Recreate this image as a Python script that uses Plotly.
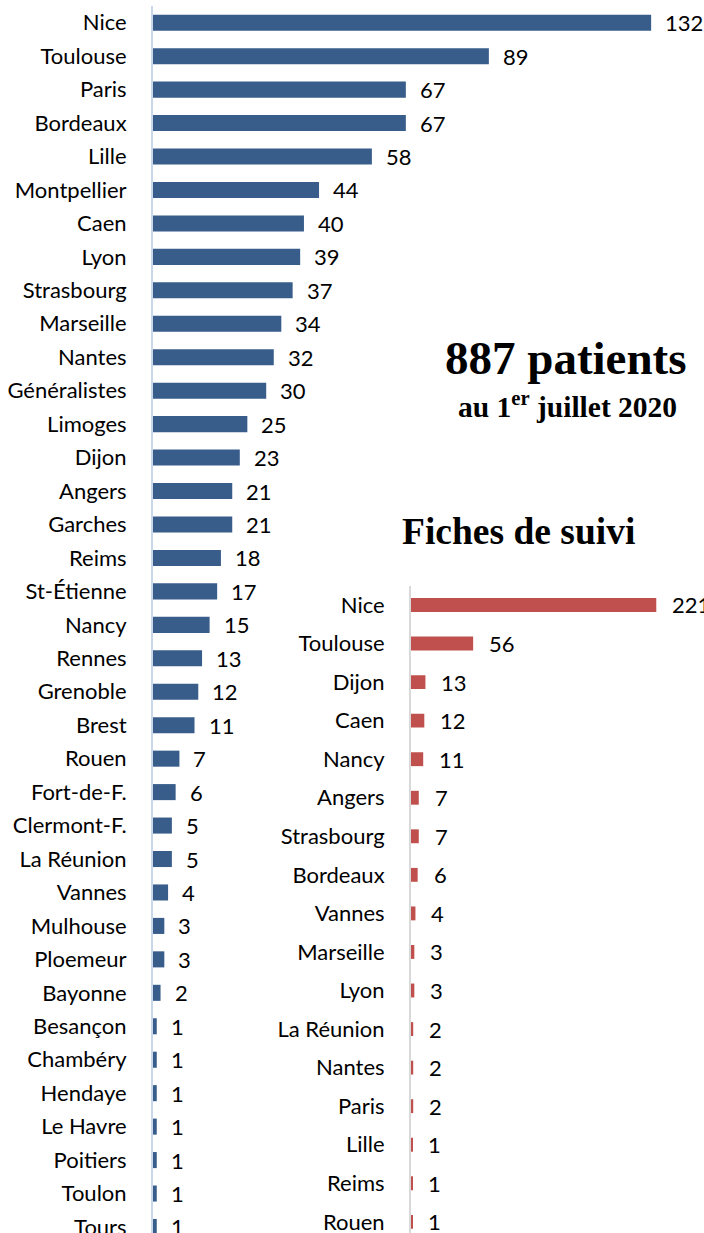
import plotly.graph_objects as go

W, H = 704, 1233

left_cities = ["Nice", "Toulouse", "Paris", "Bordeaux", "Lille", "Montpellier", "Caen", "Lyon",
               "Strasbourg", "Marseille", "Nantes", "Généralistes", "Limoges", "Dijon", "Angers",
               "Garches", "Reims", "St-Étienne", "Nancy", "Rennes", "Grenoble", "Brest", "Rouen",
               "Fort-de-F.", "Clermont-F.", "La Réunion", "Vannes", "Mulhouse", "Ploemeur", "Bayonne",
               "Besançon", "Chambéry", "Hendaye", "Le Havre", "Poitiers", "Toulon", "Tours"]
left_values = [132, 89, 67, 67, 58, 44, 40, 39, 37, 34, 32, 30, 25, 23, 21, 21, 18, 17, 15, 13,
               12, 11, 7, 6, 5, 5, 4, 3, 3, 2, 1, 1, 1, 1, 1, 1, 1]

right_cities = ["Nice", "Toulouse", "Dijon", "Caen", "Nancy", "Angers", "Strasbourg", "Bordeaux",
                "Vannes", "Marseille", "Lyon", "La Réunion", "Nantes", "Paris", "Lille", "Reims", "Rouen"]
right_values = [221, 56, 13, 12, 11, 7, 7, 6, 4, 3, 3, 2, 2, 2, 1, 1, 1]

title_main = "887 patients"
title_sub = "au 1<sup>er</sup> juillet 2020"
title_fiches = "Fiches de suivi"

BLUE = "#385D8A"
RED = "#C0504D"
LFONT = "Lato"
LSIZE = 22

fig = go.Figure()
fig.add_trace(go.Bar(x=left_values, y=left_cities, orientation="h", width=0.48,
                     marker=dict(color=BLUE, line=dict(width=0)),
                     xaxis="x", yaxis="y", hoverinfo="x+y"))
fig.add_trace(go.Bar(x=right_values, y=right_cities, orientation="h", width=0.36,
                     marker=dict(color=RED, line=dict(width=0)),
                     xaxis="x2", yaxis="y2", hoverinfo="x+y"))

ann = []
for c, v in zip(left_cities, left_values):
    ann.append(dict(x=v, y=c, xref="x", yref="y", text=str(v), showarrow=False, xanchor="left",
                    xshift=12, font=dict(family=LFONT, size=LSIZE, color="#000000")))
for c, v in zip(right_cities, right_values):
    ann.append(dict(x=v, y=c, xref="x2", yref="y2", text=str(v), showarrow=False, xanchor="left",
                    xshift=14, font=dict(family=LFONT, size=LSIZE, color="#000000")))

SERIF = "Liberation Serif"
ann.append(dict(x=566 / W, y=1 - 358 / H, xref="paper", yref="paper", text="<b>" + title_main + "</b>",
                showarrow=False, xanchor="center", yanchor="middle",
                font=dict(family=SERIF, size=47, color="#000000")))
ann.append(dict(x=567 / W, y=1 - 405 / H, xref="paper", yref="paper", text="<b>" + title_sub + "</b>",
                showarrow=False, xanchor="center", yanchor="middle",
                font=dict(family=SERIF, size=29.5, color="#000000")))
ann.append(dict(x=518 / W, y=1 - 531 / H, xref="paper", yref="paper", text="<b>" + title_fiches + "</b>",
                showarrow=False, xanchor="center", yanchor="middle",
                font=dict(family=SERIF, size=37.5, color="#000000")))

fig.update_layout(
    width=W, height=H,
    margin=dict(l=0, r=0, t=0, b=0),
    paper_bgcolor="white", plot_bgcolor="rgba(0,0,0,0)",
    showlegend=False,
    annotations=ann,
    xaxis=dict(domain=[153 / W, 690 / W], range=[0, 142.3], showgrid=False, zeroline=False,
               showticklabels=False, showline=False, fixedrange=True),
    yaxis=dict(domain=[0, 1 - 6 / H], anchor="x", type="category", categoryorder="array",
               categoryarray=left_cities, range=[36.18, -0.5], showgrid=False, zeroline=False,
               showline=True, linecolor="#C9D7EA", linewidth=2, ticks="outside", ticklen=20,
               tickcolor="rgba(0,0,0,0)", automargin=False,
               tickfont=dict(family=LFONT, size=LSIZE, color="#000000")),
    xaxis2=dict(domain=[411 / W, 1.0], range=[0, 264], showgrid=False, zeroline=False,
                showticklabels=False, showline=False, anchor="y2", fixedrange=True),
    yaxis2=dict(domain=[0, 1 - 585.7 / H], anchor="x2", type="category", categoryorder="array",
                categoryarray=right_cities, range=[16.29, -0.5], showgrid=False, zeroline=False,
                showline=True, linecolor="#D9D9D9", linewidth=2, ticks="outside", ticklen=20,
                tickcolor="rgba(0,0,0,0)", automargin=False,
                tickfont=dict(family=LFONT, size=LSIZE, color="#000000")),
)

fig.write_html("out.html", config={"displayModeBar": False},
               post_script="document.body.style.margin='0';document.body.style.overflow='hidden';")
